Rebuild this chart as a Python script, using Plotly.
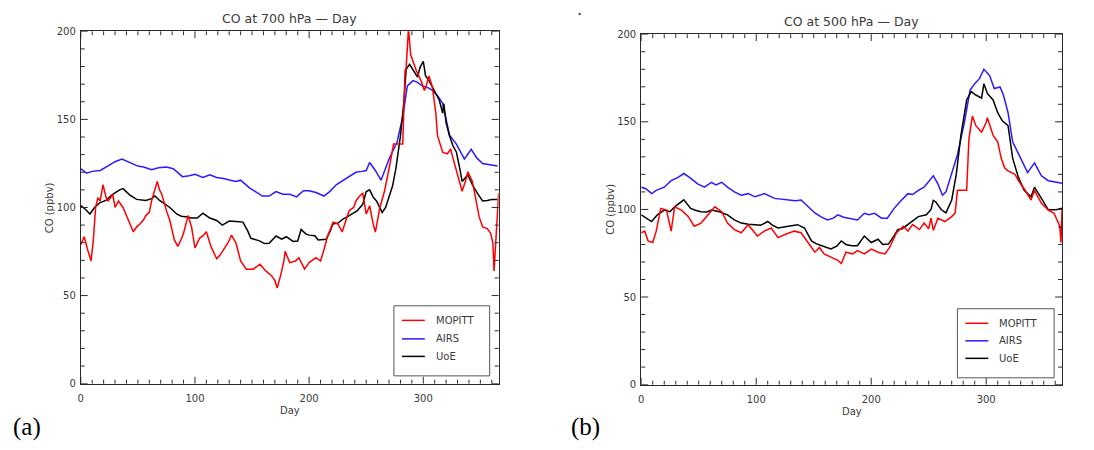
import plotly.graph_objects as go

# ---------------- data ----------------
SERIES_NAMES = ["MOPITT", "AIRS", "UoE"]
SERIES_COLORS = ["#ff0000", "#2a1aff", "#000000"]
PANEL_TITLES = ["CO at 700 hPa \u2014 Day", "CO at 500 hPa \u2014 Day"]
PANEL_TAGS = ["(a)", "(b)"]
X_RANGE = [0, 366]
Y_RANGE = [0, 200]
X_MAJOR, X_MINOR = 100, 10
Y_MAJOR, Y_MINOR = 50, 10

# 700 hPa
airs700_day = [0, 5, 10, 17, 25, 30, 36, 43, 50, 55, 62, 68, 75, 81, 89, 95, 100, 107, 113, 119,
               125, 131, 136, 140, 148, 153, 159, 165, 171, 177, 183, 189, 195, 200, 206, 213, 218,
               224, 232, 241, 246, 250, 253, 258, 263, 270, 277, 282, 286, 291, 295, 299, 304, 308,
               313, 317, 320, 323, 329, 336, 342, 347, 352, 358, 365]
airs700_co = [122, 119.5, 120.5, 121, 124, 126, 127.5, 125.5, 123.5, 123, 121.5, 122.5, 123, 122,
              117.5, 118, 118.8, 117, 118.5, 117, 116.5, 115.5, 114.8, 115.5, 111, 109, 106.5, 106.5,
              109, 107.5, 107.5, 106, 109.5, 109.5, 108.5, 106.5, 109, 113, 116.5, 120, 120.5, 121,
              125.5, 121, 115.5, 127.5, 137, 151.5, 169, 172, 171, 169, 168, 166.5, 163, 159, 150,
              141, 136, 127.5, 133, 128, 125, 124.5, 123.5]

uoe700_day = [0, 4, 8, 12, 17, 22, 27, 34, 37, 43, 49, 54, 57, 62, 65, 69, 72, 78, 84, 88, 92, 97,
              102, 107, 113, 119, 124, 130, 136, 142, 146, 149, 156, 161, 165, 171, 176, 180, 186,
              190, 193, 197, 200, 205, 208, 215, 218, 221, 225, 230, 234, 238, 242, 247, 250, 253,
              256, 259, 264, 267, 270, 273, 276, 280, 283, 285, 288, 292, 295, 297, 300, 302, 305,
              308, 314, 317, 318, 320, 323, 326, 329, 332, 334, 339, 343, 348, 352, 356, 360, 365]
uoe700_co = [101, 99, 96.3, 100, 102.8, 104, 107, 110, 110.7, 107, 104.6, 104, 104, 105, 106.5, 104,
             102.8, 100, 96.3, 95, 94.8, 94, 94, 96.7, 94, 92.6, 90, 92.3, 92, 91.7, 87, 82.5, 81.2,
             79.5, 79.7, 83.8, 82, 83.4, 80.7, 81, 87.5, 85, 84.3, 84, 81.6, 82, 86, 90.8, 91, 93.6,
             95, 96.3, 98, 101.8, 109, 110, 106, 103.7, 97.2, 100, 105.5, 112, 122, 140.6, 160,
             178.4, 181.2, 177.5, 174, 179.3, 183, 174.7, 172, 168.3, 161, 153.5, 159, 148, 140.6,
             135, 131.4, 122, 114.8, 118.5, 112.9, 107.4, 103.7, 104, 104.5, 104.6]

mop700_day = [0, 3, 6, 9, 11, 13, 15, 17, 19.5, 22, 24, 28, 30, 33, 37, 40, 43, 46, 49, 52, 55, 57,
              60, 62, 65, 67, 69, 71, 75, 78, 82, 85, 88, 90, 94, 97, 100, 104, 107, 110, 114, 119,
              122, 125, 129, 132, 136, 140, 145, 151, 157, 162, 167, 170, 172, 175, 178, 179, 183,
              188, 191, 196, 200, 206, 210, 213, 216, 221, 225, 229, 232, 235, 239, 241, 245, 247,
              250, 253, 256, 258, 262, 266, 270, 274, 282, 284, 285, 287, 289, 294, 298, 301, 303,
              305, 308, 311, 312.5, 317, 321, 324, 326, 329, 334, 337, 339, 343, 347, 349, 352, 356,
              359, 361, 362, 364, 365, 366]
mop700_co = [78.8, 83.4, 76, 69.6, 81.6, 100, 105.5, 103.7, 113, 106, 103.7, 107.4, 100, 103.7, 100,
             95, 90.8, 86.2, 89, 90.8, 93, 95.4, 97.2, 103.7, 111, 114.8, 110, 107.4, 98.2, 92.6,
             81.6, 77.9, 82, 85.3, 95.4, 89, 77, 82.5, 84, 86.2, 77.9, 70.9, 73, 76, 80, 84.3, 79.7,
             69.6, 65, 65, 67.8, 64, 61.3, 58.6, 54.3, 61.3, 70, 75.1, 68.7, 69.6, 71.5, 65, 68.7,
             71.5, 69.6, 76, 83.4, 91.7, 90.8, 86.2, 92, 98.2, 100, 103.7, 107, 108, 96.3, 101, 91,
             86, 100, 109.2, 122, 136, 136, 177.5, 179.3, 201.5, 186.7, 177.5, 172, 166.4, 170,
             174.7, 168.3, 153.5, 140.6, 131.4, 130.4, 133.2, 128, 120.3, 109.2, 115, 120.3, 114.8,
             100, 94.5, 89, 88, 85.3, 79.7, 64, 89, 101.8, 108]

# 500 hPa
airs500_day = [0, 4, 9, 13, 20, 26, 32, 37, 42, 49, 55, 61, 65, 70, 75, 81, 87, 93, 99, 107, 116,
               122, 128, 134, 139, 145, 151, 156, 162, 167, 171, 176, 180, 188, 194, 198, 203, 209,
               214, 220, 225, 232, 236, 241, 246, 251, 254, 258, 262, 265, 270, 275, 281, 286, 290,
               294, 298, 303, 307, 312, 315, 319, 323, 330, 336, 342, 348, 354, 360, 366]
airs500_co = [112.7, 111.8, 109, 110.9, 112.7, 116.4, 118.3, 120.5, 118.3, 114.6, 112.7, 115.5, 114,
              115.5, 112.7, 110, 108.1, 109, 107.2, 109, 106.3, 106, 105.4, 105, 105.4, 101.7, 98,
              95.9, 94, 95, 96.9, 95.5, 95, 94, 97.8, 97, 97.8, 95, 95, 100.6, 104.4, 109, 108.5,
              110.9, 112.7, 116.4, 119.2, 114.6, 108.1, 110, 120.1, 131.2, 149.6, 168.1, 171.8,
              174.5, 180, 176.4, 169, 169.9, 165.3, 155.2, 138.6, 129.3, 121, 126.6, 119.2, 116.4,
              115.5, 114.9]

uoe500_day = [0, 4, 9, 14, 20, 25, 29, 33, 37, 43, 47, 52, 57, 61, 68, 75, 81, 87, 93, 99, 104, 110,
              114, 119, 124, 128, 136, 142, 148, 152, 157, 165, 170, 174, 178, 183, 188, 194, 200,
              206, 210, 215, 220, 223, 227, 232, 236, 241, 248, 252, 254, 256, 261, 265, 270, 274,
              278, 283, 287, 291, 296, 298, 301, 306, 310, 314, 319, 323, 328, 333, 339, 342, 348,
              354, 361, 366]
uoe500_co = [96.9, 95, 93.1, 96.9, 99.6, 98.7, 101.5, 103.5, 105.5, 100.6, 99.5, 98.7, 98.5, 99.6,
             98.7, 96.9, 94, 92.2, 91.5, 91.3, 91, 93.1, 91, 89.4, 89.8, 90.4, 91.3, 89.4, 82, 80.5,
             79.3, 77.4, 79, 82, 80, 79.3, 79.3, 84.8, 81.1, 83, 80, 80.2, 85, 88.5, 89, 91.3, 93.5,
             95.9, 96.9, 100, 105.2, 104.4, 99.8, 98, 105.4, 120.1, 142.3, 162.5, 167.2, 165.3,
             163.5, 171.8, 166.2, 162.5, 155.2, 150.6, 147.8, 129.3, 118.3, 110.9, 107.2, 112.7,
             106.3, 99.8, 99.8, 100.7]

mop500_day = [0, 3, 6, 10, 13, 17, 22, 24, 26, 29, 35, 41, 46, 52, 58, 64, 70, 75, 81, 87, 93, 96,
              101, 107, 113, 119, 125, 133, 139, 145, 151, 155, 159, 165, 171, 174, 178, 184, 188,
              194, 200, 206, 212, 216, 222, 228, 232, 236, 242, 246, 250, 252, 254, 258, 264, 270,
              273, 275, 283, 285, 288, 291, 296, 300, 301, 306, 310, 313, 316, 319, 325, 328, 333,
              339, 342, 348, 352, 354, 359, 364, 365, 366]
mop500_co = [86.7, 87.6, 82, 81.1, 87.6, 100.6, 99.6, 93, 87.6, 101.5, 99.6, 95.9, 90.4, 92.2, 96.9,
             101.5, 98.7, 92.2, 88.5, 86.7, 91.3, 89, 84.8, 87.6, 89.4, 83.9, 85.7, 87.6, 86.7, 81.1,
             75.6, 78.3, 74.6, 72.8, 70.9, 69.1, 75.6, 74.6, 76.5, 74.6, 77.4, 75.6, 74.6, 78.3,
             86.7, 90.4, 87.6, 91.3, 88.5, 92.2, 89, 95, 88, 95, 93.1, 95.9, 98, 110.9, 110.9, 140.4,
             153.3, 147.8, 144.1, 149.6, 152.4, 142.3, 138.6, 129.3, 123.8, 122, 120.1, 116.4,
             111.8, 105.4, 110.9, 103.5, 100.7, 99.6, 97.8, 90.4, 81.1, 100.6]

panels = [
    {"x": [mop700_day, airs700_day, uoe700_day], "y": [mop700_co, airs700_co, uoe700_co]},
    {"x": [mop500_day, airs500_day, uoe500_day], "y": [mop500_co, airs500_co, uoe500_co]},
]

# ---------------- layout helpers (pixel -> paper) ----------------
W, H = 1094, 450


def px(x):
    return x / W


def py(y):
    return 1 - y / H


# plot boxes in pixels: left, right, top, bottom
boxes = [(78, 497, 26, 388), (640, 1062, 29, 389)]
legend_boxes = [(392, 488, 308, 380), (957, 1054, 311, 382)]
legend_rows = [(323, 342, 360), (326, 344, 362)]

FONT = "DejaVu Sans"
TXT = "#3a3a3a"
AX = "#2a2a2a"
MAJOR_LEN, MINOR_LEN = 7, 4

fig = go.Figure()
draw_order = [1, 2, 0]  # AIRS, UoE, then MOPITT on top

for p, panel in enumerate(panels):
    xa = "x" if p == 0 else "x2"
    ya = "y" if p == 0 else "y2"
    for s in draw_order:
        fig.add_trace(go.Scatter(
            x=panel["x"][s], y=panel["y"][s], mode="lines", name=SERIES_NAMES[s],
            line=dict(color=SERIES_COLORS[s], width=1.5), xaxis=xa, yaxis=ya,
            showlegend=False, hoverinfo="skip"))

axis_common = dict(
    showline=True, linecolor=AX, linewidth=1, mirror=True, ticks="",
    showgrid=False, zeroline=False, tickmode="linear", tick0=0,
    tickfont=dict(family=FONT, size=10, color=TXT),
)

layout = dict(
    width=W, height=H, margin=dict(l=0, r=0, t=0, b=0),
    paper_bgcolor="white", plot_bgcolor="white", showlegend=False,
)

for p, (l, r, t, b) in enumerate(boxes):
    sx = "" if p == 0 else "2"
    layout["xaxis" + sx] = dict(
        axis_common, domain=[px(l), px(r)], range=X_RANGE, dtick=X_MAJOR,
        anchor="y" + sx, ticklabelstandoff=5)
    layout["yaxis" + sx] = dict(
        axis_common, domain=[py(b), py(t)], range=Y_RANGE, dtick=Y_MAJOR,
        anchor="x" + sx, ticklabelstandoff=2)

fig.update_layout(**layout)

shapes = []
annotations = []

for p, (l, r, t, b) in enumerate(boxes):
    sx = "" if p == 0 else "2"
    xr, yr = "x" + sx, "y" + sx
    tick_line = dict(color=AX, width=1)

    # inside ticks on all four sides, major every 100 days / 50 ppbv, minor every 10
    for d in range(X_RANGE[0], X_RANGE[1] + 1, X_MINOR):
        frac = (MAJOR_LEN if d % X_MAJOR == 0 else MINOR_LEN) / (b - t)
        shapes.append(dict(type="line", xref=xr, yref=yr + " domain", x0=d, x1=d, y0=0, y1=frac,
                           line=tick_line, layer="above"))
        shapes.append(dict(type="line", xref=xr, yref=yr + " domain", x0=d, x1=d, y0=1 - frac,
                           y1=1, line=tick_line, layer="above"))
    for v in range(Y_RANGE[0], Y_RANGE[1] + 1, Y_MINOR):
        frac = (MAJOR_LEN if v % Y_MAJOR == 0 else MINOR_LEN) / (r - l)
        shapes.append(dict(type="line", xref=xr + " domain", yref=yr, x0=0, x1=frac, y0=v, y1=v,
                           line=tick_line, layer="above"))
        shapes.append(dict(type="line", xref=xr + " domain", yref=yr, x0=1 - frac, x1=1, y0=v,
                           y1=v, line=tick_line, layer="above"))

    cx = (l + r) / 2
    # title
    annotations.append(dict(text=PANEL_TITLES[p], x=px(cx), y=py(t - 13), xref="paper", yref="paper",
                            showarrow=False, xanchor="center", yanchor="middle",
                            font=dict(family=FONT, size=12.5, color=TXT)))
    # axis titles
    annotations.append(dict(text="Day", x=px(cx), y=py(b + 28), xref="paper", yref="paper",
                            showarrow=False, xanchor="center", yanchor="middle",
                            font=dict(family=FONT, size=10, color=TXT)))
    annotations.append(dict(text="CO (ppbv)", x=px(l - 31), y=py((t + b) / 2), xref="paper",
                            yref="paper", showarrow=False, textangle=-90, xanchor="center",
                            yanchor="middle", font=dict(family=FONT, size=10, color=TXT)))
    # panel tag
    annotations.append(dict(text=PANEL_TAGS[p], x=px(8 if p == 0 else 568), y=py(433), xref="paper",
                            yref="paper", showarrow=False, xanchor="left", yanchor="middle",
                            font=dict(family="Liberation Serif", size=25, color="#000000")))

    # legend box
    lx0, lx1, ly0, ly1 = legend_boxes[p]
    shapes.append(dict(type="rect", xref="paper", yref="paper", x0=px(lx0), x1=px(lx1),
                       y0=py(ly1), y1=py(ly0), line=dict(color="#555555", width=1),
                       fillcolor="white", layer="above"))
    for s in range(3):
        yy = legend_rows[p][s]
        shapes.append(dict(type="line", xref="paper", yref="paper", x0=px(lx0 + 8), x1=px(lx0 + 31),
                           y0=py(yy), y1=py(yy), line=dict(color=SERIES_COLORS[s], width=1.5),
                           layer="above"))
        annotations.append(dict(text=SERIES_NAMES[s], x=px(lx0 + 40), y=py(yy), xref="paper",
                                yref="paper", showarrow=False, xanchor="left", yanchor="middle",
                                font=dict(family=FONT, size=10, color=TXT)))

# small stray dot near the top of the second panel
shapes.append(dict(type="circle", xref="paper", yref="paper", x0=px(577), x1=px(579.5),
                   y0=py(9.5), y1=py(7), line=dict(color="#555555", width=0), fillcolor="#555555"))

fig.update_layout(shapes=shapes, annotations=annotations)
fig.write_html("out.html")
